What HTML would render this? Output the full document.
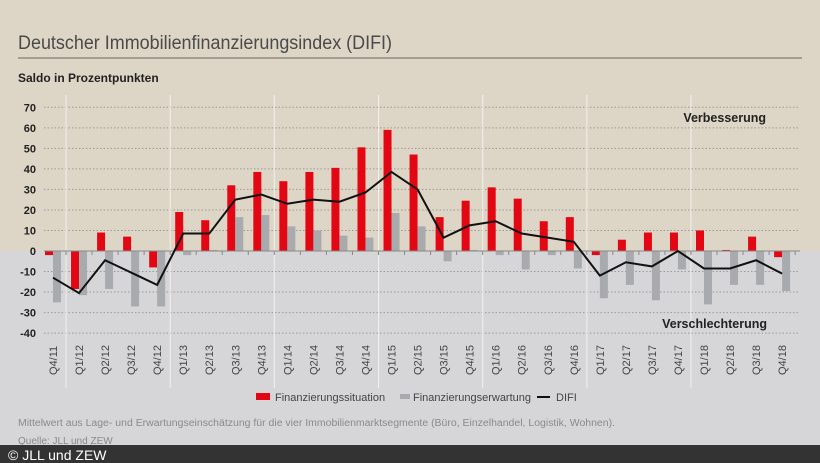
<!DOCTYPE html>
<html><head><meta charset="utf-8"><style>
html,body{margin:0;padding:0;width:820px;height:463px;overflow:hidden;background:#d6d6d8}
svg{display:block;font-family:"Liberation Sans",sans-serif}
</style></head><body>
<svg id="s" width="820" height="463" xmlns="http://www.w3.org/2000/svg">
<rect x="0" y="0" width="820" height="251" fill="#ddd6c6"/>
<rect x="0" y="251" width="820" height="194" fill="#d6d6d8"/>
<text x="18" y="49" font-size="19" fill="#4a4a4a" textLength="374" lengthAdjust="spacingAndGlyphs">Deutscher Immobilienfinanzierungsindex (DIFI)</text>
<rect x="18" y="57" width="784" height="2" fill="#a59d8f"/>
<text x="18" y="82" font-size="12" font-weight="bold" fill="#222">Saldo in Prozentpunkten</text>
<g id="g"></g>
<text x="766" y="122" font-size="12.5" font-weight="bold" fill="#222" text-anchor="end">Verbesserung</text>
<text x="767" y="328" font-size="12.5" font-weight="bold" fill="#222" text-anchor="end">Verschlechterung</text>
<rect x="256" y="393" width="14" height="7" fill="#e30613"/>
<text x="275" y="401" font-size="11" fill="#444">Finanzierungssituation</text>
<rect x="400" y="394" width="10" height="5" fill="#a9aaad"/>
<text x="413" y="401" font-size="11" fill="#444">Finanzierungserwartung</text>
<rect x="537" y="396" width="13" height="2" fill="#111"/>
<text x="556" y="401" font-size="11" fill="#444">DIFI</text>
<text x="18" y="426" font-size="10" fill="#8a8a8a" textLength="597" lengthAdjust="spacingAndGlyphs">Mittelwert aus Lage- und Erwartungseinschätzung für die vier Immobilienmarktsegmente (Büro, Einzelhandel, Logistik, Wohnen).</text>
<text x="18" y="444" font-size="10" fill="#8a8a8a">Quelle: JLL und ZEW</text>
<rect x="0" y="445" width="820" height="18" fill="#333"/>
<text x="8" y="460" font-size="14" fill="#fff">© JLL und ZEW</text>
</svg>
<script>
var red=[-2,-18.5,9,7,-8,19,15,32,38.5,34,38.5,40.5,50.5,59,47,16.5,24.5,31,25.5,14.5,16.5,-2,5.5,9,9,10,0.5,7,-3];
var gr=[-25,-21.5,-18.5,-27,-27,-2,0.5,16.5,17.5,12,10,7.5,6.5,18.5,12,-5,0.5,-2,-9,-2,-8.5,-23,-16.5,-24,-9,-26,-16.5,-16.5,-19.5];
var di=[-13,-20.5,-4.5,-10.5,-16.5,8.5,8.5,25,27.5,23,25,24,28.5,38.5,30,6.5,12.5,14.5,8.5,6.5,4.5,-12,-5.5,-7.5,0,-8.5,-8.5,-4.5,-11];
function Y(v){return 251-2.053*v;}
var h='';
for(var v=-40;v<=70;v+=10){var y=Y(v);
 if(v!=0)h+='<line x1="44" x2="800" y1="'+y+'" y2="'+y+'" stroke="#9a9a9a" stroke-width="1" stroke-dasharray="1.5,2"/>';
 h+='<text x="36" y="'+(y+4)+'" font-size="11" font-weight="bold" fill="#222" text-anchor="end">'+v+'</text>';}
var lab=[];var q=4,yr=11;for(var i=0;i<29;i++){lab.push('Q'+q+'/'+yr);q++;if(q>4){q=1;yr++;}}
for(var i=0;i<29;i++){if(i%4==1){var x=53+26.04*i-13;h+='<line x1="'+x+'" x2="'+x+'" y1="95" y2="388" stroke="#f2f0ec" stroke-width="1"/>';}}
for(var i=0;i<29;i++){var c=53+26.04*i;
 var r=red[i],g=gr[i];
 h+='<rect x="'+(c-8)+'" y="'+Math.min(Y(r),251)+'" width="8" height="'+Math.abs(2.053*r)+'" fill="#e30613"/>';
 h+='<rect x="'+c+'" y="'+Math.min(Y(g),251)+'" width="8" height="'+Math.abs(2.053*g)+'" fill="#a9aaad"/>';
 h+='<text transform="translate('+(c+4)+',375) rotate(-90)" font-size="11" fill="#444">'+lab[i]+'</text>';
 h+='<line x1="'+(c+13)+'" x2="'+(c+13)+'" y1="251" y2="255" stroke="#888"/>';}
h+='<line x1="44" x2="800" y1="251" y2="251" stroke="#888" stroke-width="1"/>';
var p='';for(var i=0;i<29;i++){p+=(i?'L':'M')+(53+26.04*i)+','+Y(di[i]);}
h+='<path d="'+p+'" fill="none" stroke="#111" stroke-width="2"/>';
document.getElementById('g').innerHTML=h;
</script>
</body></html>
